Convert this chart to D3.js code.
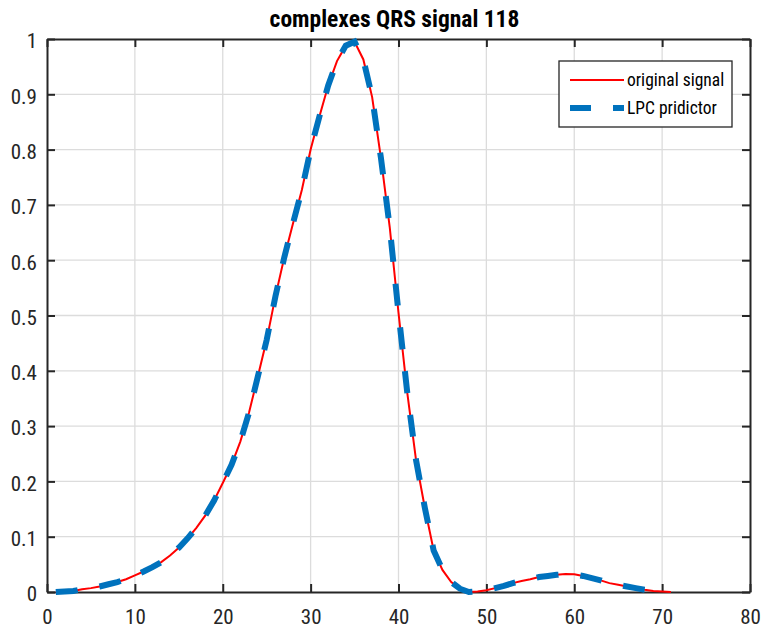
<!DOCTYPE html>
<html>
<head>
<meta charset="utf-8">
<script src="https://cdn.jsdelivr.net/npm/d3@7"></script>
<style>
  body { margin: 0; background: #fff; }
  svg text { font-family: "Liberation Sans Narrow", "Roboto Condensed", "Arial Narrow", sans-serif; }
</style>
</head>
<body>
<div id="chart"></div>
<script>
const w = 761;
const h = 634;
const margin = { top: 39, right: 11, bottom: 42, left: 47 };

// samples
const sampleX = d3.range(1, 72);
const originalSignal = [
  0.000, 0.001, 0.002, 0.005, 0.007, 0.010, 0.014, 0.018, 0.023, 0.030,
  0.037, 0.045, 0.054, 0.066, 0.080, 0.097, 0.116, 0.138, 0.165, 0.197,
  0.230, 0.272, 0.325, 0.390, 0.456, 0.535, 0.605, 0.667, 0.727, 0.800,
  0.860, 0.916, 0.960, 0.988, 0.995, 0.963, 0.895, 0.785, 0.660, 0.505,
  0.360, 0.238, 0.152, 0.075, 0.040, 0.018, 0.006, 0.000, 0.001, 0.003,
  0.007, 0.011, 0.016, 0.020, 0.023, 0.027, 0.029, 0.031, 0.0325, 0.032,
  0.029, 0.025, 0.021, 0.016, 0.013, 0.010, 0.007, 0.004, 0.002, 0.001,
  0.000
];
// predictor stops one sample earlier
const lpcPredictor = originalSignal.slice(0, 70);

const xTicks = [0, 10, 20, 30, 40, 50, 60, 70, 80];
const yTicks = [0, 0.1, 0.2, 0.3, 0.4, 0.5, 0.6, 0.7, 0.8, 0.9, 1];
const seriesNames = ["original signal", "LPC pridictor"];

const svg = d3.select("#chart").append("svg")
    .attr("width", w)
    .attr("height", h);

const xScale = d3.scaleLinear().domain([0, 80]).range([margin.left, w - margin.right]);
const yScale = d3.scaleLinear().domain([0, 1]).range([h - margin.bottom, margin.top]);

// grid
svg.append("g")
    .selectAll("line.vg")
    .data(xTicks.slice(1, -1))
    .enter().append("line")
    .attr("x1", d => xScale(d)).attr("x2", d => xScale(d))
    .attr("y1", yScale(0)).attr("y2", yScale(1))
    .attr("stroke", "#dcdcdc").attr("stroke-width", 1.3);
svg.append("g")
    .selectAll("line.hg")
    .data(yTicks.slice(1, -1))
    .enter().append("line")
    .attr("x1", xScale(0)).attr("x2", xScale(80))
    .attr("y1", d => yScale(d)).attr("y2", d => yScale(d))
    .attr("stroke", "#dcdcdc").attr("stroke-width", 1.3);

// axes (MATLAB box style, ticks inside on all sides)
const tickLen = 8;
const xAxis = d3.axisBottom(xScale).tickValues(xTicks).tickSizeInner(-tickLen).tickSizeOuter(0);
const yAxis = d3.axisLeft(yScale).tickValues(yTicks).tickSizeInner(-tickLen).tickSizeOuter(0)
    .tickFormat(d => d === 0 || d === 1 ? d : d3.format(".1f")(d));

const gx = svg.append("g")
    .attr("transform", `translate(0, ${yScale(0)})`)
    .call(xAxis);
const gy = svg.append("g")
    .attr("transform", `translate(${xScale(0)}, 0)`)
    .call(yAxis);
svg.append("g")
    .attr("transform", `translate(0, ${yScale(1)})`)
    .call(d3.axisTop(xScale).tickValues(xTicks).tickSizeInner(-tickLen).tickSizeOuter(0).tickFormat(""));
svg.append("g")
    .attr("transform", `translate(${xScale(80)}, 0)`)
    .call(d3.axisRight(yScale).tickValues(yTicks).tickSizeInner(-tickLen).tickSizeOuter(0).tickFormat(""));

svg.selectAll(".domain").attr("stroke", "#262626").attr("stroke-width", 2);
svg.selectAll(".tick line").attr("stroke", "#262626").attr("stroke-width", 2);
svg.selectAll(".tick text")
    .attr("fill", "#262626")
    .style("font-size", "21px");
gx.selectAll(".tick text").attr("dy", "0.71em").attr("y", 17);
gy.selectAll(".tick text").attr("x", -10).attr("dy", "0.42em");

// lines
const line = d3.line()
    .x((d, i) => xScale(sampleX[i]))
    .y(d => yScale(d));

svg.append("path")
    .datum(originalSignal)
    .attr("d", line)
    .attr("fill", "none")
    .attr("stroke", "#ff0000")
    .attr("stroke-width", 2);

svg.append("path")
    .datum(lpcPredictor)
    .attr("d", line)
    .attr("fill", "none")
    .attr("stroke", "#0072bd")
    .attr("stroke-width", 6)
    .attr("stroke-dasharray", "22,22");

// title
svg.append("text")
    .attr("x", (xScale(0) + xScale(80)) / 2 - 4)
    .attr("y", 27)
    .attr("text-anchor", "middle")
    .style("font-size", "23.5px")
    .style("font-weight", "bold")
    .attr("fill", "#000")
    .text("complexes QRS signal 118");

// legend
const lg = svg.append("g").attr("transform", "translate(559, 61)");
lg.append("rect")
    .attr("width", 173).attr("height", 66)
    .attr("fill", "#fff")
    .attr("stroke", "#262626")
    .attr("stroke-width", 1.3);
lg.append("line")
    .attr("x1", 11).attr("x2", 65).attr("y1", 19).attr("y2", 19)
    .attr("stroke", "#ff0000").attr("stroke-width", 2);
lg.append("line")
    .attr("x1", 11).attr("x2", 65).attr("y1", 47).attr("y2", 47)
    .attr("stroke", "#0072bd").attr("stroke-width", 6)
    .attr("stroke-dasharray", "21,22");
lg.selectAll("text.leg")
    .data(seriesNames)
    .enter().append("text")
    .attr("x", 68)
    .attr("y", (d, i) => 19 + i * 28)
    .attr("dy", "0.35em")
    .style("font-size", "17.5px")
    .attr("fill", "#000")
    .text(d => d);
</script>
</body>
</html>
